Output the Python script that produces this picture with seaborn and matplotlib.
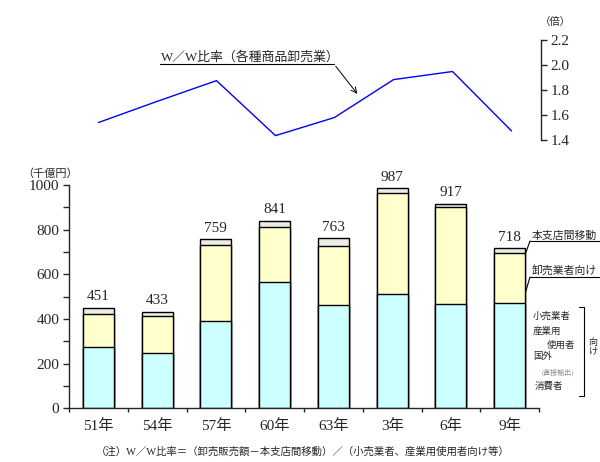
import numpy as np
import matplotlib
matplotlib.use("Agg")
import matplotlib.pyplot as plt
import seaborn as sns

# data (千億円 and W/W ratio)
years = ["51年", "54年", "57年", "60年", "63年", "3年", "6年", "9年"]
direct = [273, 248, 391, 566, 463, 512, 467, 473]      # 小売業者・産業用使用者・国外・消費者向け
wholesale = [148, 165, 339, 245, 262, 451, 433, 223]   # 卸売業者向け
branch = [30, 20, 29, 30, 38, 24, 17, 22]              # 本支店間移動
ww_ratio = [1.54, 1.71, 1.875, 1.435, 1.58, 1.883, 1.948, 1.473]

left_ticks = [0, 200, 400, 600, 800, 1000]
right_ticks = [1.4, 1.6, 1.8, 2.0, 2.2]

sns.set_style("white")
plt.rcParams["font.family"] = ["Liberation Serif", "Noto Sans CJK JP"]
plt.rcParams["axes.linewidth"] = 1.0

W, H = 600, 462


def box(x0, y0, x1, y1):
    # pixel box (top-left origin) -> figure fraction rect
    return [x0 / W, 1 - y1 / H, (x1 - x0) / W, (y1 - y0) / H]


fig = plt.figure(figsize=(6, 4.62), dpi=100)
ax = fig.add_axes(box(69, 185, 539, 408.3))
top = fig.add_axes(box(69, 40, 541, 140))
ov = fig.add_axes([0, 0, 1, 1])
ov.set_xlim(0, W)
ov.set_ylim(H, 0)
ov.axis("off")

# stacked bars drawn as cumulative heights, tallest first
cum1 = np.array(direct)
cum2 = cum1 + np.array(wholesale)
totals = cum2 + np.array(branch)
for vals, col in [(totals, "#ECECE4"), (cum2, "#FFFFCC"), (cum1, "#CCFFFF")]:
    sns.barplot(x=years, y=vals, order=years, color=col, saturation=1,
                width=0.53, edgecolor="black", linewidth=1.0, ax=ax)
ax.bar_label(ax.containers[0], labels=[str(v) for v in totals],
             padding=3, fontsize=11)

ax.set_xlim(-0.5, len(years) - 0.5)
ax.set_ylim(0, 1000)
ax.set_yticks(left_ticks)
ax.set_yticks(np.arange(0, 1001, 100), minor=True)
ax.tick_params(axis="y", which="both", direction="out", length=4, width=1,
               labelsize=11, pad=3, left=True)
ax.set_xticks(np.arange(len(years)))
ax.set_xticklabels(years)
ax.set_xticks(np.arange(len(years) + 1) - 0.5, minor=True)
ax.tick_params(axis="x", which="major", length=0, labelsize=11, pad=8)
ax.tick_params(axis="x", which="minor", direction="out", length=3, width=1,
               bottom=True)
ax.set_xlabel("")
ax.set_ylabel("")
for s in ["top", "right"]:
    ax.spines[s].set_visible(False)

# W/W ratio line
sns.lineplot(x=np.arange(len(years)), y=ww_ratio, color="#0000FF",
             linewidth=1.0, ax=top)
top.set_xlim(-0.5, len(years) - 0.5)
top.set_ylim(1.4, 2.2)
top.set_yticks(right_ticks)
top.set_yticklabels([f"{v:.1f}" for v in right_ticks])
top.yaxis.tick_right()
top.tick_params(axis="y", direction="out", length=4, width=1, labelsize=11,
                pad=3, right=True)
top.set_xticks([])
for s in ["top", "left", "bottom"]:
    top.spines[s].set_visible(False)
top.patch.set_alpha(0)

# texts and leader lines (pixel coordinates)
ov.text(50, 174, "（千億円）", fontsize=8, ha="center", va="center")
ov.text(555, 22, "（倍）", fontsize=7.5, ha="center", va="center")
ov.text(161, 57, "W／W比率（各種商品卸売業）", fontsize=9.3, ha="left", va="center")
ov.plot([160, 334], [64, 64], color="black", lw=0.8)
ov.annotate("", xy=(359, 96), xytext=(334, 64),
            arrowprops=dict(arrowstyle="->", lw=0.7, color="black"))

ov.text(532, 236, "本支店間移動", fontsize=7.8, ha="left", va="center")
ov.plot([530, 600], [241, 241], color="black", lw=0.8)
ov.plot([530, 525.7], [241, 253], color="black", lw=0.8)
ov.text(532, 270, "卸売業者向け", fontsize=7.8, ha="left", va="center")
ov.plot([530, 600], [277, 277], color="black", lw=0.8)
ov.plot([530, 525.7], [277, 291.7], color="black", lw=0.8)

ov.text(533, 316.5, "小売業者", fontsize=6.8, ha="left", va="center")
ov.text(533, 331, "産業用", fontsize=6.8, ha="left", va="center")
ov.text(547, 345, "使用者", fontsize=6.8, ha="left", va="center")
ov.text(533, 356.5, "国外", fontsize=6.8, ha="left", va="center")
ov.text(542, 372, "(直接輸出)", fontsize=5, ha="left", va="center", color="#888888")
ov.text(535, 386.5, "消費者", fontsize=6.8, ha="left", va="center")
ov.plot([579, 584, 584, 579], [307, 307, 396, 396], color="black", lw=0.8)
ov.text(593, 347, "向\nけ", fontsize=6.5, ha="center", va="center", linespacing=1.0)

ov.text(303, 452, "（注）W／W比率＝（卸売販売額－本支店間移動）／（小売業者、産業用使用者向け等）",
        fontsize=7.5, ha="center", va="center")

fig.savefig("out.png", dpi=100)
